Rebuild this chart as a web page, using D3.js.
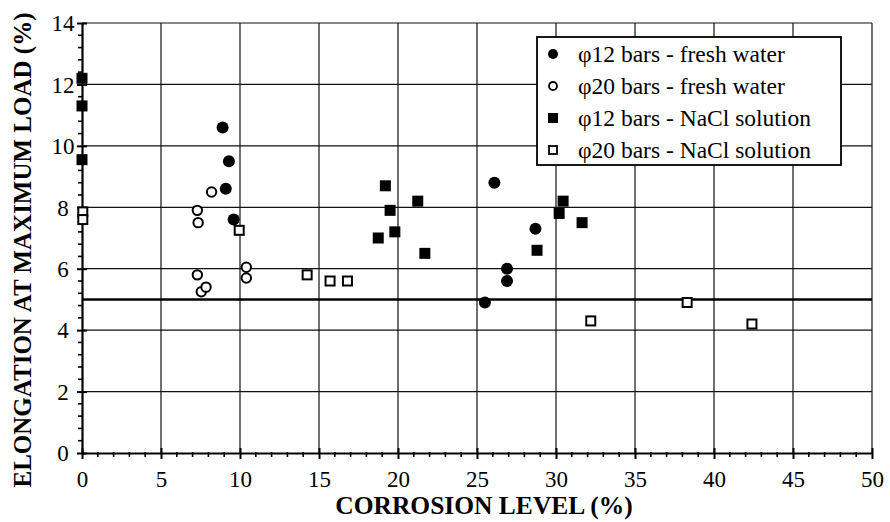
<!DOCTYPE html>
<html>
<head>
<meta charset="utf-8">
<script src="https://cdn.jsdelivr.net/npm/d3@7/dist/d3.min.js"></script>
<style>
  html, body { margin: 0; padding: 0; background: #fff; }
  svg { display: block; }
  svg text { font-family: "Liberation Serif", Tinos, "Times New Roman", Times, "DejaVu Serif", serif !important; fill: #000; }
</style>
</head>
<body>
<svg id="chart" width="890" height="522"></svg>
<script>
// ---- Data ----
const xTicks = [0, 5, 10, 15, 20, 25, 30, 35, 40, 45, 50];
const yTicks = [0, 2, 4, 6, 8, 10, 12, 14];
const refLine = 5;

const fw12X = [8.9, 9.3, 9.1, 9.6, 26.1, 28.7, 26.9, 26.9, 25.5];
const fw12Y = [10.6, 9.5, 8.6, 7.6, 8.8, 7.3, 6.0, 5.6, 4.9];

const fw20X = [8.2, 7.3, 7.35, 7.3, 7.55, 7.85, 10.4, 10.4];
const fw20Y = [8.5, 7.9, 7.5, 5.8, 5.25, 5.4, 6.05, 5.7];

const na12X = [0, 0, 0, 19.2, 19.5, 19.8, 18.75, 21.25, 21.7, 30.45, 30.2, 31.65, 28.8];
const na12Y = [12.2, 11.3, 9.55, 8.7, 7.9, 7.2, 7.0, 8.2, 6.5, 8.2, 7.8, 7.5, 6.6];

const na20X = [0.05, 0.05, 9.95, 14.25, 15.7, 16.8, 32.2, 38.3, 42.4];
const na20Y = [7.85, 7.6, 7.25, 5.8, 5.6, 5.6, 4.3, 4.9, 4.2];

const seriesNames = [
  "\u03C612 bars - fresh water",
  "\u03C620 bars - fresh water",
  "\u03C612 bars - NaCl solution",
  "\u03C620 bars - NaCl solution"
];

// ---- Layout ----
const SERIF = "'Liberation Serif', Tinos, 'Times New Roman', Times, 'DejaVu Serif', serif";
const svg = d3.select("#chart");
const L = 82, R = 872, T = 23, B = 453;
const x = d3.scaleLinear().domain([0, 50]).range([L, R]);
const y = d3.scaleLinear().domain([0, 14]).range([B, T]);

// Gridlines
const grid = svg.append("g");
grid.selectAll("line.v").data(xTicks.filter(d => d > 0)).join("line")
  .attr("x1", d => x(d)).attr("x2", d => x(d))
  .attr("y1", y(0)).attr("y2", y(14))
  .attr("stroke", "#111").attr("stroke-width", 1.2);
grid.selectAll("line.h").data(yTicks.filter(d => d > 0)).join("line")
  .attr("x1", x(0)).attr("x2", x(50))
  .attr("y1", d => y(d)).attr("y2", d => y(d))
  .attr("stroke", "#111").attr("stroke-width", 1.2);

// Reference line at 5%
svg.append("line")
  .attr("x1", x(0)).attr("x2", x(50))
  .attr("y1", y(refLine)).attr("y2", y(refLine))
  .attr("stroke", "#000").attr("stroke-width", 2.6);

// Minor ticks
const minorX = d3.range(0, 51, 1).filter(d => d % 5 !== 0);
svg.append("g").selectAll("line").data(minorX).join("line")
  .attr("x1", d => x(d)).attr("x2", d => x(d))
  .attr("y1", B - 1).attr("y2", B + 4)
  .attr("stroke", "#000").attr("stroke-width", 1.6);
const minorY = d3.range(0, 14.01, 0.4).filter(d => Math.abs(d / 2 - Math.round(d / 2)) > 0.01);
svg.append("g").selectAll("line").data(minorY).join("line")
  .attr("x1", L - 4).attr("x2", L + 1)
  .attr("y1", d => y(d)).attr("y2", d => y(d))
  .attr("stroke", "#000").attr("stroke-width", 1.6);

// X axis
const xAxis = svg.append("g").attr("transform", `translate(0,${B})`)
  .call(d3.axisBottom(x).tickValues(xTicks).tickSizeInner(5).tickSizeOuter(0).tickFormat(d3.format("d")));
xAxis.attr("font-family", SERIF);
xAxis.select(".domain").attr("stroke", "#000").attr("stroke-width", 2.2);
xAxis.selectAll(".tick line").attr("y1", -5).attr("y2", 6).attr("stroke-width", 2);
xAxis.selectAll(".tick text").attr("y", 18).attr("dy", "0.71em")
  .style("font-size", "23px");

// Y axis
const yAxis = svg.append("g").attr("transform", `translate(${L},0)`)
  .call(d3.axisLeft(y).tickValues(yTicks).tickSizeInner(5).tickSizeOuter(0).tickFormat(d3.format("d")));
yAxis.attr("font-family", SERIF);
yAxis.select(".domain").attr("stroke", "#000").attr("stroke-width", 2.2);
yAxis.selectAll(".tick line").attr("x1", -5).attr("x2", 5).attr("stroke-width", 2);
yAxis.selectAll(".tick text").attr("x", -19).attr("dy", "0.34em")
  .attr("text-anchor", "middle")
  .style("font-size", "23px");

// Markers
const pts = (xs, ys) => xs.map((v, i) => ({ x: v, y: ys[i] }));
const mk = svg.append("g");
const sq = 11, cr = 5.7;

mk.selectAll("rect.na20").data(pts(na20X, na20Y)).join("rect")
  .attr("x", d => x(d.x) - sq / 2 + 1).attr("y", d => y(d.y) - sq / 2 + 1)
  .attr("width", sq - 2).attr("height", sq - 2)
  .attr("fill", "#fff").attr("stroke", "#000").attr("stroke-width", 2);
mk.selectAll("circle.fw20").data(pts(fw20X, fw20Y)).join("circle")
  .attr("cx", d => x(d.x)).attr("cy", d => y(d.y)).attr("r", cr - 1)
  .attr("fill", "#fff").attr("stroke", "#000").attr("stroke-width", 2);
mk.selectAll("rect.na12").data(pts(na12X, na12Y)).join("rect")
  .attr("x", d => x(d.x) - sq / 2).attr("y", d => y(d.y) - sq / 2)
  .attr("width", sq).attr("height", sq).attr("fill", "#000");
mk.selectAll("circle.fw12").data(pts(fw12X, fw12Y)).join("circle")
  .attr("cx", d => x(d.x)).attr("cy", d => y(d.y)).attr("r", cr + 0.3)
  .attr("fill", "#000");

// Legend
const lg = svg.append("g");
lg.append("rect").attr("x", 537).attr("y", 37).attr("width", 304).attr("height", 128)
  .attr("fill", "#fff").attr("stroke", "#000").attr("stroke-width", 1.8);
const rowY = i => 54 + i * 32;
const mx = 553;
lg.append("circle").attr("cx", mx).attr("cy", rowY(0)).attr("r", 5).attr("fill", "#000");
lg.append("circle").attr("cx", mx).attr("cy", rowY(1)).attr("r", 4).attr("fill", "#fff")
  .attr("stroke", "#000").attr("stroke-width", 1.8);
lg.append("rect").attr("x", mx - 5).attr("y", rowY(2) - 5).attr("width", 10).attr("height", 10).attr("fill", "#000");
lg.append("rect").attr("x", mx - 4).attr("y", rowY(3) - 4).attr("width", 8).attr("height", 8)
  .attr("fill", "#fff").attr("stroke", "#000").attr("stroke-width", 1.8);
lg.selectAll("text").data(seriesNames).join("text")
  .attr("x", 578).attr("y", (d, i) => rowY(i)).attr("dy", "0.34em")
  .attr("font-family", SERIF)
  .style("font-size", "23.5px").text(d => d);

// Axis titles
svg.append("text").attr("x", 484).attr("y", 514).attr("text-anchor", "middle")
  .attr("font-family", SERIF)
  .style("font-size", "25.5px").style("font-weight", "bold").text("CORROSION LEVEL (%)");
svg.append("text").attr("transform", "translate(31,250) rotate(-90)").attr("text-anchor", "middle")
  .attr("font-family", SERIF)
  .style("font-size", "25px").style("font-weight", "bold").text("ELONGATION AT MAXIMUM LOAD (%)");
</script>
</body>
</html>
